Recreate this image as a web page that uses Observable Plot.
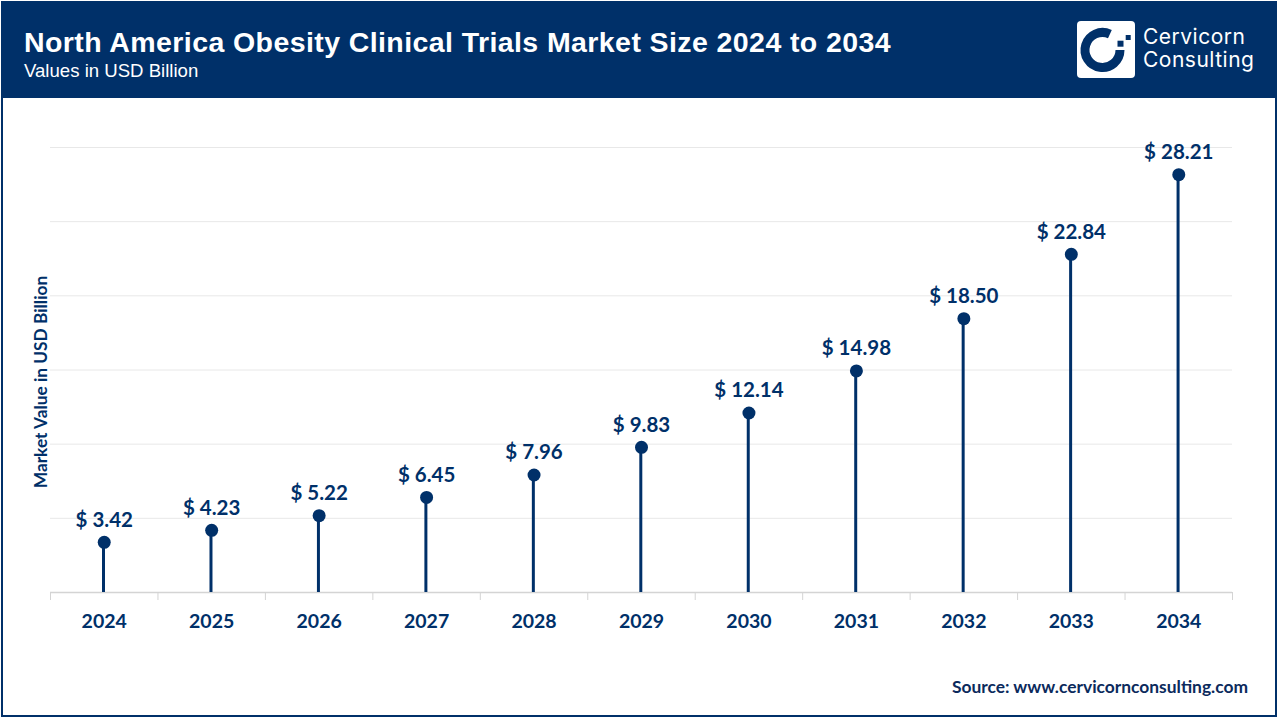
<!DOCTYPE html>
<html><head><meta charset="utf-8">
<script src="https://cdn.jsdelivr.net/npm/d3@7"></script>
<script src="https://cdn.jsdelivr.net/npm/@observablehq/plot@0.6"></script>
<style>
html,body{margin:0;padding:0;background:#fff;overflow:hidden}
#page{position:relative;width:1280px;height:720px;overflow:hidden}
#header{position:absolute;left:1px;top:1px;width:1276px;height:97px;background:#003069;color:#fff;font-family:"Liberation Sans",Arial,sans-serif}
#title{position:absolute;left:23px;top:25px;font-size:28.5px;font-weight:700;letter-spacing:.41px;white-space:nowrap;line-height:32px}
#subtitle{position:absolute;left:23px;top:59px;font-size:18.6px;line-height:21px;white-space:nowrap}
#logo{position:absolute;left:1076px;top:20px}
#brand{position:absolute;left:1142px;top:24px;font-family:Inter,sans-serif;font-size:21px;line-height:23px;letter-spacing:.5px;font-weight:400;white-space:nowrap}
#frame{position:absolute;left:1px;top:1px;width:1276px;height:716px;box-sizing:border-box;border:2px solid #003069;pointer-events:none}
#chart{position:absolute;left:0;top:98px}
#chart svg{display:block}
#source{position:absolute;right:32px;top:676px;font-family:Lato,sans-serif;font-weight:700;font-size:17.4px;color:#0b2a5c;white-space:nowrap}
</style></head>
<body><div id="page">
<div id="chart"></div>
<div id="header">
<div id="title">North America Obesity Clinical Trials Market Size 2024 to 2034</div>
<div id="subtitle">Values in USD Billion</div>
<svg id="logo" width="58" height="57" viewBox="0 0 58 57">
<rect width="58" height="57" rx="4" fill="#fff"/>
<path d="M32.9 13.1 A 17.5 17.5 0 1 0 43 29" fill="none" stroke="#003069" stroke-width="9"/>
<rect x="40.5" y="19.7" width="6" height="6" fill="#003069"/>
<rect x="48.7" y="14" width="5" height="5" fill="#003069"/>
</svg>
<div id="brand">Cervicorn<br>Consulting</div>
</div>
<div id="source">Source: www.cervicornconsulting.com</div>
<div id="frame"></div>
</div>
<script>
const years = [2024,2025,2026,2027,2028,2029,2030,2031,2032,2033,2034];
const values = [3.42,4.23,5.22,6.45,7.96,9.83,12.14,14.98,18.50,22.84,28.21];
const gridValues = [5,10,15,20,25,30];
const bandEdges = [2023.5,2024.5,2025.5,2026.5,2027.5,2028.5,2029.5,2030.5,2031.5,2032.5,2033.5,2034.5];
const yLabel = "Market Value in USD Billion";
const navy = "#003069";
const rows = years.map((year,i)=>({year,value:values[i]}));
const chart = Plot.plot({
  width:1280,height:622,
  marginLeft:50,marginRight:48,marginTop:49,marginBottom:128,
  style:{background:"transparent",fontFamily:"Lato, sans-serif"},
  x:{domain:[2023.5,2034.5],label:null},
  y:{domain:[0,30],label:null},
  marks:[
    Plot.gridY(gridValues,{stroke:"#e8e8e8",strokeOpacity:1,strokeWidth:1}),
    Plot.ruleY([0],{stroke:"#d4d4d4",strokeWidth:1.5}),
    Plot.axisX({ticks:bandEdges,tickSize:8,tickFormat:()=>"",stroke:"#d4d4d4",label:null}),
    Plot.axisX({ticks:years,tickSize:0,tickPadding:22,tickFormat:"d",fontSize:19.5,fontWeight:700,fill:navy,label:null}),
    Plot.axisY({ticks:[],label:null}),
    Plot.ruleX(rows,{x:"year",y1:0,y2:"value",stroke:navy,strokeWidth:3,dx:-0.7}),
    Plot.dot(rows,{x:"year",y:"value",r:6.5,fill:navy,stroke:navy,strokeWidth:0,dy:0.6}),
    Plot.text(rows,{x:"year",y:"value",text:d=>"$ "+d.value.toFixed(2),dy:-21.5,fontSize:20.5,fontWeight:700,fill:navy}),
    Plot.text([yLabel],{frameAnchor:"left",textAnchor:"middle",rotate:-90,dx:-9,dy:12,fontSize:17.3,fontWeight:700,fill:navy})
  ]
});
document.getElementById("chart").append(chart);
</script>
</body></html>
